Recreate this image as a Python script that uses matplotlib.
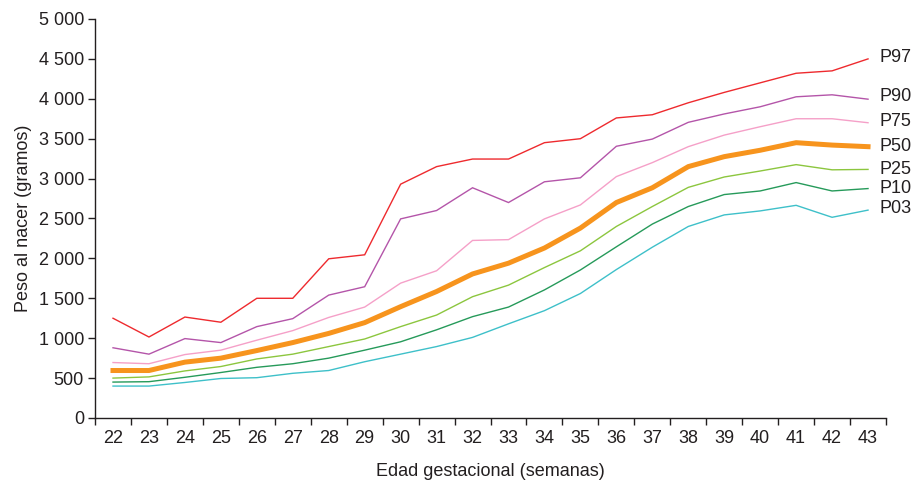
import matplotlib
matplotlib.use("Agg")
import matplotlib.pyplot as plt
from matplotlib.ticker import FixedLocator, FuncFormatter

plt.rcParams['font.family'] = ['Liberation Sans', 'DejaVu Sans']

# Gestational age (weeks) and birth-weight percentiles (grams)
weeks = list(range(22, 44))
p97 = [1250, 1015, 1265, 1200, 1500, 1500, 1995, 2045, 2930, 3150, 3245, 3245,
       3450, 3500, 3760, 3800, 3950, 4080, 4200, 4320, 4350, 4500]
p90 = [880, 800, 995, 945, 1145, 1245, 1540, 1645, 2495, 2600, 2885, 2700,
       2960, 3010, 3405, 3495, 3705, 3810, 3900, 4025, 4050, 3995]
p75 = [695, 680, 795, 850, 975, 1095, 1260, 1390, 1690, 1845, 2225, 2235,
       2495, 2670, 3025, 3200, 3400, 3545, 3650, 3750, 3750, 3700]
p50 = [595, 595, 700, 750, 845, 945, 1060, 1195, 1395, 1585, 1805, 1940,
       2130, 2380, 2700, 2885, 3150, 3275, 3355, 3450, 3420, 3400]
p25 = [500, 515, 590, 645, 740, 800, 895, 990, 1145, 1290, 1520, 1665,
       1885, 2095, 2400, 2650, 2890, 3020, 3095, 3175, 3110, 3115]
p10 = [450, 455, 510, 570, 635, 680, 750, 850, 955, 1105, 1270, 1390,
       1605, 1855, 2145, 2430, 2650, 2800, 2845, 2950, 2845, 2875]
p03 = [400, 400, 445, 495, 505, 560, 595, 705, 800, 895, 1010, 1180,
       1345, 1560, 1860, 2140, 2400, 2545, 2595, 2665, 2515, 2605]

series_names = ["P97", "P90", "P75", "P50", "P25", "P10", "P03"]
series_values = [p97, p90, p75, p50, p25, p10, p03]
series_colors = ["#ee2a2e", "#b455a9", "#f5a0c8", "#f7941d", "#8cc63e", "#269a5a", "#3ec0c9"]
series_widths = [1.0, 1.0, 1.0, 3.6, 1.0, 1.0, 1.0]
label_offsets = [1, 2, 1, 0, 0, 0, 1]  # small vertical nudges (points) for end labels

y_ticks = [0, 500, 1000, 1500, 2000, 2500, 3000, 3500, 4000, 4500, 5000]

text_color = "#231f20"

fig = plt.figure(figsize=(9.19, 4.87), dpi=100)
ax = fig.add_axes([0.1034, 0.1417, 0.8607, 0.8193])

xpos = list(range(len(weeks)))
for name, vals, col, lw, dy in zip(series_names, series_values, series_colors,
                                   series_widths, label_offsets):
    ax.plot(xpos, vals, color=col, lw=lw, solid_joinstyle='miter', zorder=3)
    ax.annotate(name, xy=(xpos[-1], vals[-1]), xytext=(8, dy),
                textcoords='offset points', ha='left', va='center',
                fontsize=13, color=text_color, annotation_clip=False)

ax.set_xlim(-0.5, len(weeks) - 0.5)
ax.set_ylim(0, 5000)

# category labels centred, tick marks on the category boundaries
ax.set_xticks(xpos)
ax.set_xticklabels([str(w) for w in weeks])
ax.xaxis.set_minor_locator(FixedLocator([i - 0.5 for i in range(len(weeks) + 1)]))
ax.tick_params(axis='x', which='major', length=0, pad=9, labelsize=13, labelcolor=text_color)
ax.tick_params(axis='x', which='minor', length=5, width=1.0, color=text_color, direction='out')

ax.set_yticks(y_ticks)
ax.yaxis.set_major_formatter(FuncFormatter(lambda v, p: f"{int(v):,}".replace(",", " ")))
ax.tick_params(axis='y', length=5, width=1.0, color=text_color, pad=3,
               labelsize=13, labelcolor=text_color)

for side in ("top", "right"):
    ax.spines[side].set_visible(False)
for side in ("left", "bottom"):
    ax.spines[side].set_color(text_color)
    ax.spines[side].set_linewidth(1.0)

ax.set_xlabel("Edad gestacional (semanas)", fontsize=13, color=text_color, labelpad=11)
ax.set_ylabel("Peso al nacer (gramos)", fontsize=13, color=text_color, labelpad=5)

fig.savefig("out.png", dpi=100, facecolor="white")
